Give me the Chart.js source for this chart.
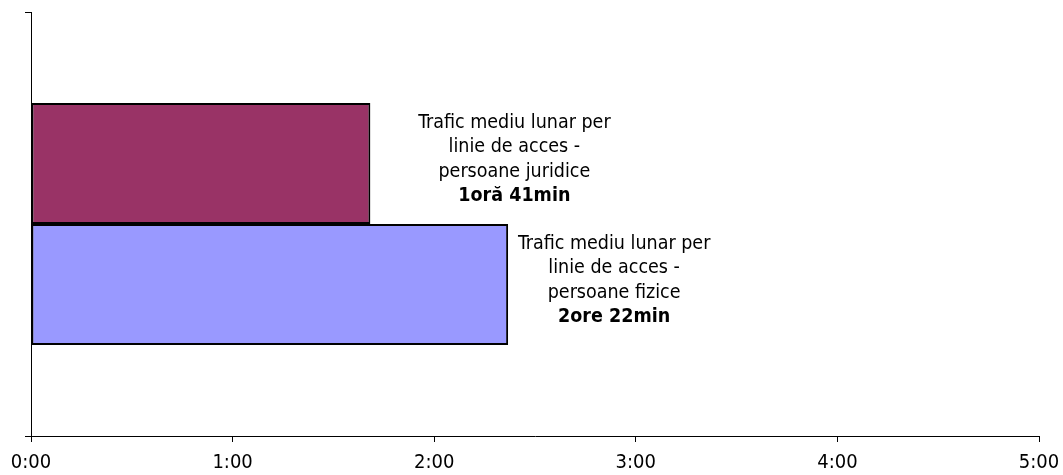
<!DOCTYPE html>
<html>
<head>
<meta charset="utf-8">
<script src="https://cdn.jsdelivr.net/npm/chart.js@4"></script>
<style>
  html, body { margin: 0; padding: 0; background: #fff; }
  #wrap { width: 1063px; height: 475px; }
</style>
</head>
<body>
<div id="wrap"><canvas id="myChart" width="1063" height="475"></canvas></div>
<script>
"use strict"

// values in minutes
const categories = [''];
const seriesNames = ['persoane juridice', 'persoane fizice'];
const minutes = [101, 142];
const labelLines = [
  ['Trafic mediu lunar per', 'linie de acces -', 'persoane juridice'],
  ['Trafic mediu lunar per', 'linie de acces -', 'persoane fizice']
];
const valueLabels = ['1oră 41min', '2ore 22min'];
const tickLabels = ['0:00', '1:00', '2:00', '3:00', '4:00', '5:00'];
const barColors = ['#993366', '#9999FF'];

const FONT = '"DejaVu Sans Condensed", "DejaVu Sans", sans-serif';

// data label drawn beside each bar, offsets as in the original
const labelOffsets = [144, 106];
const barLabels = {
  id: 'barLabels',
  afterDatasetsDraw(chart) {
    const c = chart.ctx;
    c.save();
    c.fillStyle = '#000';
    c.textAlign = 'center';
    c.textBaseline = 'middle';
    chart.data.datasets.forEach((ds, i) => {
      const bar = chart.getDatasetMeta(i).data[0];
      const cx = bar.x + labelOffsets[i];
      const lines = labelLines[i].concat([valueLabels[i]]);
      const lh = 24.5;
      const y0 = bar.y - 4 - (lines.length - 1) * lh / 2;
      lines.forEach((t, k) => {
        const bold = k === lines.length - 1;
        c.font = (bold ? 'bold ' : '') + '19.5px ' + FONT;
        c.fillText(t, cx, y0 + k * lh);
      });
    });
    c.restore();
  }
};

const ctx = document.getElementById('myChart');
new Chart(ctx, {
  type: 'bar',
  data: {
    labels: categories,
    datasets: seriesNames.map((name, i) => ({
      label: name,
      data: [minutes[i]],
      backgroundColor: barColors[i],
      borderColor: '#000',
      borderWidth: 2,
      borderSkipped: false,
      categoryPercentage: 0.571,
      barPercentage: 1
    }))
  },
  options: {
    indexAxis: 'y',
    responsive: false,
    animation: false,
    layout: { padding: { top: 12, right: 24, left: 0, bottom: 0 } },
    plugins: {
      legend: { display: false },
      tooltip: { enabled: false }
    },
    scales: {
      x: {
        min: 0,
        max: 300,
        afterFit(scale) {
          scale.height = 39;
          scale.paddingLeft = 0;
          scale.paddingRight = 0;
        },
        ticks: {
          stepSize: 60,
          color: '#000',
          padding: 9,
          maxRotation: 0,
          font: { family: FONT, size: 20 },
          callback: (v) => tickLabels[v / 60]
        },
        grid: {
          drawOnChartArea: false,
          tickLength: 6,
          color: '#000'
        },
        border: { color: '#000', width: 1 }
      },
      y: {
        afterFit(scale) { scale.width = 31; },
        ticks: { display: false },
        grid: {
          offset: true,
          drawOnChartArea: false,
          tickLength: 6,
          color: '#000'
        },
        border: { color: '#000', width: 1 }
      }
    }
  },
  plugins: [barLabels]
});
</script>
</body>
</html>
